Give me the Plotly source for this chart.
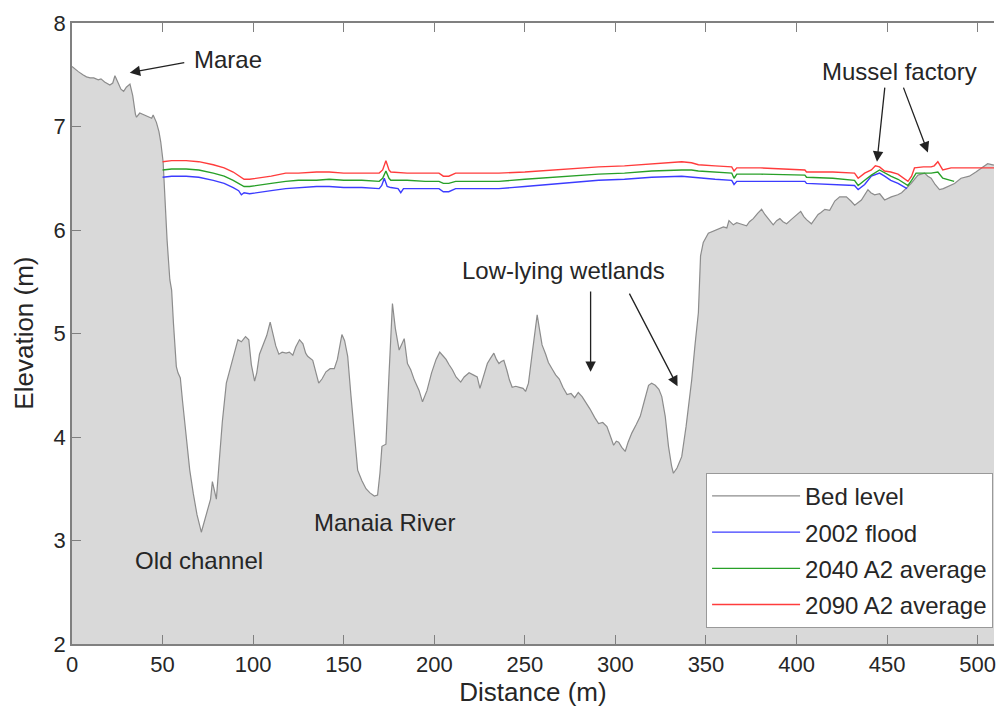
import plotly.graph_objects as go

# ---- data ----
bed_x = [0, 2, 3.5, 6, 8, 10, 12, 14.5, 16, 18, 20.9, 22.5, 23.7, 25.5, 27, 28.5, 30, 32, 33.5, 35, 35.6,
         37.4, 40, 42, 44, 44.8, 46.6, 48, 49, 50.3, 51.2, 52.5, 54, 55, 56, 57.6, 58.5, 59.8, 61, 63, 65,
         67, 69, 71.4, 73, 75, 76.5, 77.5, 78.5, 79.7, 81, 83, 85.2, 87, 89, 91.6, 93.5, 95.8, 97.6, 99,
         100.8, 102, 103.5, 105.4, 107.5, 109.4, 111, 112.5, 114.2, 116, 118.2, 120, 121.9, 123.5, 125.6,
         127.5, 129, 130.1, 132.9, 134.5, 136.2, 138, 140.2, 142.5, 144.8, 146.5, 149, 150.5, 152.2, 154,
         156, 157.7, 160, 162.3, 164.5, 166.9, 168.7, 170, 171.1, 173.3, 175, 176.9, 178.5, 180.6, 183.4,
         185.2, 187, 189, 191.6, 193.5, 196, 198.5, 201, 203, 205, 206.5, 208.1, 210, 212, 214.6, 216.5,
         219.2, 221.5, 223.7, 225.2, 227, 229.3, 231, 232.9, 234.3, 235.7, 237, 238.4, 240, 241.5, 243,
         245, 247, 249, 250.4, 252, 254, 256.8, 258, 259.5, 261.5, 263, 265, 267, 269, 271, 273.3, 275.5,
         277.5, 279.5, 281.6, 284, 286, 288.5, 290.7, 293, 295.3, 297, 299, 300.5, 301.8, 303.5, 305.4,
         307, 309.1, 311.5, 313.7, 316, 318.3, 320, 322, 324, 325.6, 327.5, 329.3, 331, 332, 334, 336.6,
         339, 342.1, 344, 345.8, 347, 348.5, 351.3, 355, 359.6, 361.5, 362.7, 365.1, 367, 368.8, 372.4,
         374, 376.1, 378.5, 380.7, 382.5, 384.4, 387.1, 389, 390.8, 392.5, 394.5, 397, 399, 402.3, 404,
         405.5, 408.2, 410, 411.9, 413.5, 415.6, 418.3, 421.1, 423.8, 427.5, 430, 432.1, 435.8, 439.4,
         441, 443.1, 445.9, 448.6, 452.3, 455.9, 458, 460.5, 463.3, 467, 470.7, 472.5, 474.3, 476.5,
         478.9, 481, 483.5, 487.2, 490.8, 495.4, 499, 502, 505.5, 508.3, 510]
bed_y = [7.58, 7.55, 7.53, 7.50, 7.48, 7.47, 7.47, 7.45, 7.46, 7.43, 7.40, 7.42, 7.49, 7.42, 7.36, 7.34,
         7.38, 7.41, 7.30, 7.12, 7.09, 7.13, 7.11, 7.10, 7.08, 7.11, 7.04, 6.95, 6.85, 6.66, 6.30, 5.90,
         5.52, 5.42, 5.10, 4.68, 4.62, 4.57, 4.35, 3.98, 3.68, 3.45, 3.25, 3.08, 3.18, 3.29, 3.40, 3.57,
         3.50, 3.40, 3.70, 4.15, 4.52, 4.64, 4.78, 4.94, 4.92, 4.97, 4.94, 4.70, 4.54, 4.62, 4.80, 4.89,
         4.98, 5.11, 5.00, 4.88, 4.80, 4.82, 4.81, 4.82, 4.79, 4.87, 4.94, 4.90, 4.81, 4.78, 4.74, 4.62,
         4.52, 4.56, 4.63, 4.66, 4.66, 4.75, 4.99, 4.93, 4.78, 4.40, 3.98, 3.68, 3.58, 3.50, 3.46, 3.43,
         3.44, 3.65, 3.91, 3.93, 4.60, 5.29, 5.05, 4.84, 4.95, 4.71, 4.65, 4.55, 4.45, 4.34, 4.45, 4.62,
         4.75, 4.82, 4.78, 4.75, 4.70, 4.65, 4.58, 4.53, 4.58, 4.62, 4.60, 4.58, 4.47, 4.57, 4.71, 4.76,
         4.81, 4.75, 4.71, 4.73, 4.74, 4.65, 4.55, 4.48, 4.49, 4.48, 4.47, 4.44, 4.52, 4.80, 5.18, 5.05,
         4.89, 4.80, 4.72, 4.66, 4.60, 4.56, 4.48, 4.41, 4.42, 4.38, 4.43, 4.39, 4.33, 4.27, 4.19, 4.13,
         4.14, 4.10, 4.02, 3.92, 3.96, 3.95, 3.90, 3.86, 3.95, 4.04, 4.12, 4.20, 4.35, 4.50, 4.52, 4.50,
         4.46, 4.39, 4.20, 3.91, 3.72, 3.65, 3.70, 3.81, 4.10, 4.55, 4.90, 5.20, 5.75, 5.88, 5.97, 6.00,
         6.03, 6.02, 6.09, 6.05, 6.07, 6.06, 6.04, 6.08, 6.11, 6.16, 6.20, 6.15, 6.11, 6.05, 6.09, 6.11,
         6.08, 6.06, 6.10, 6.13, 6.18, 6.13, 6.10, 6.06, 6.10, 6.15, 6.17, 6.20, 6.19, 6.28, 6.32, 6.32,
         6.28, 6.24, 6.29, 6.39, 6.36, 6.34, 6.35, 6.29, 6.32, 6.34, 6.36, 6.40, 6.45, 6.53, 6.55, 6.52,
         6.50, 6.44, 6.39, 6.40, 6.42, 6.45, 6.50, 6.52, 6.56, 6.60, 6.64, 6.63, 6.62]

red_x = [50, 55, 63, 70, 78, 84, 89, 93, 95, 98, 103, 110, 118, 125, 135, 142, 150, 160, 169.6, 171.5,
         173.3, 175, 176, 185, 195, 202.6, 205, 208, 211.8, 220, 235.7, 250, 265, 280, 290.7, 305, 320,
         336.6, 342, 345.8, 355, 364.2, 365.5, 367, 380, 395, 404.6, 405.5, 420, 432, 434, 437.6, 441.3,
         443.5, 445.8, 448.6, 452, 456, 459, 461.5, 463.5, 465.1, 470, 474.3, 476, 478, 480.7, 485.3,
         495, 509]
red_y = [6.66, 6.67, 6.67, 6.66, 6.63, 6.60, 6.56, 6.51, 6.49, 6.49, 6.50, 6.52, 6.55, 6.55, 6.56, 6.56,
         6.55, 6.55, 6.55, 6.58, 6.67, 6.58, 6.56, 6.55, 6.55, 6.55, 6.52, 6.52, 6.55, 6.55, 6.55, 6.56,
         6.58, 6.60, 6.61, 6.62, 6.64, 6.66, 6.65, 6.63, 6.62, 6.61, 6.57, 6.60, 6.60, 6.59, 6.58, 6.56,
         6.56, 6.55, 6.50, 6.55, 6.58, 6.62, 6.61, 6.57, 6.56, 6.54, 6.50, 6.47, 6.52, 6.60, 6.61, 6.61,
         6.62, 6.66, 6.58, 6.60, 6.60, 6.60]

green_x = [50, 55, 63, 70, 78, 84, 89, 93, 95, 98, 103, 110, 118, 125, 135, 142, 150, 160, 169.6, 171.5,
           173.3, 175, 176, 185, 195, 202.6, 205, 208, 211.8, 220, 235.7, 250, 265, 280, 290.7, 305, 320,
           336.6, 342, 345.8, 355, 364.2, 365.5, 367, 380, 395, 404.6, 405.5, 420, 432, 434, 437.6, 441.3,
           445.8, 448.6, 452, 456, 459, 461.5, 463.5, 466, 470, 474.3, 478, 480.7, 485, 487]
green_y = [6.58, 6.59, 6.59, 6.58, 6.55, 6.52, 6.48, 6.44, 6.42, 6.42, 6.43, 6.45, 6.47, 6.48, 6.48,
           6.49, 6.48, 6.48, 6.47, 6.50, 6.57, 6.50, 6.48, 6.48, 6.47, 6.47, 6.45, 6.45, 6.47, 6.47, 6.47,
           6.49, 6.51, 6.53, 6.54, 6.55, 6.57, 6.58, 6.58, 6.57, 6.56, 6.55, 6.50, 6.54, 6.54, 6.53, 6.53,
           6.51, 6.50, 6.48, 6.43, 6.48, 6.53, 6.58, 6.55, 6.52, 6.49, 6.46, 6.43, 6.48, 6.55, 6.55, 6.55,
           6.56, 6.50, 6.48, 6.47]

blue_x = [50, 55, 63, 70, 78, 84, 89, 92, 93.5, 95, 98, 103, 110, 118, 125, 135, 142, 150, 160, 169.6,
          171, 172.4, 174, 176, 180, 181.5, 183, 195, 202.6, 205, 208, 211.8, 220, 235.7, 250, 265, 280,
          290.7, 305, 320, 336.6, 342, 345.8, 355, 364.2, 365.5, 367, 380, 395, 404.6, 405.5, 420, 432,
          434, 437.6, 441.3, 445.8, 448.6, 452, 456, 461]
blue_y = [6.51, 6.52, 6.52, 6.51, 6.48, 6.45, 6.41, 6.38, 6.34, 6.36, 6.35, 6.36, 6.38, 6.40, 6.41, 6.42,
          6.42, 6.41, 6.41, 6.40, 6.43, 6.50, 6.42, 6.41, 6.40, 6.36, 6.40, 6.40, 6.40, 6.37, 6.37, 6.40,
          6.40, 6.40, 6.42, 6.44, 6.46, 6.48, 6.49, 6.51, 6.52, 6.51, 6.50, 6.49, 6.48, 6.44, 6.47, 6.47,
          6.47, 6.47, 6.45, 6.44, 6.43, 6.39, 6.44, 6.52, 6.55, 6.52, 6.48, 6.45, 6.40]

series_names = ["Bed level", "2002 flood", "2040 A2 average", "2090 A2 average"]
x_ticks = [0, 50, 100, 150, 200, 250, 300, 350, 400, 450, 500]
y_ticks = [2, 3, 4, 5, 6, 7, 8]

FONT = "Liberation Sans, Arial, sans-serif"
TXT = "#262626"
AX = "#808080"

fig = go.Figure()
# ground fill (no legend), then the bed outline with legend entry
fig.add_trace(go.Scatter(x=bed_x, y=bed_y, mode="lines", showlegend=False, hoverinfo="skip",
                         line=dict(color="rgba(0,0,0,0)", width=0), fill="tozeroy",
                         fillcolor="#d9d9d9"))
fig.add_trace(go.Scatter(x=bed_x, y=bed_y, name=series_names[0], mode="lines", legendgroup="g0",
                         line=dict(color="#8c8c8c", width=1.2)))
fig.add_trace(go.Scatter(x=blue_x, y=blue_y, name=series_names[1], mode="lines", legendgroup="g1",
                         line=dict(color="rgb(60,60,255)", width=1.4)))
fig.add_trace(go.Scatter(x=green_x, y=green_y, name=series_names[2], mode="lines", legendgroup="g2",
                         line=dict(color="rgb(40,160,40)", width=1.4)))
fig.add_trace(go.Scatter(x=red_x, y=red_y, name=series_names[3], mode="lines", legendgroup="g3",
                         line=dict(color="rgb(255,60,60)", width=1.4)))

# text labels
labels = [
    dict(text="Marae", x=66.1, y=7.65, xanchor="left"),
    dict(text="Mussel factory", x=457, y=7.53, xanchor="center"),
    dict(text="Low-lying wetlands", x=271.5, y=5.61, xanchor="center"),
    dict(text="Old channel", x=70, y=2.81, xanchor="center"),
    dict(text="Manaia River", x=172.4, y=3.17, xanchor="center"),
]
for lb in labels:
    fig.add_annotation(text=lb["text"], x=lb["x"], y=lb["y"], xref="x", yref="y",
                       xanchor=lb["xanchor"], yanchor="middle", showarrow=False,
                       font=dict(family=FONT, size=24, color=TXT))

# arrows (tail -> tip)
arrows = [
    ((62.8, 7.62), (31.9, 7.52)),
    ((286.3, 5.42), (286.3, 4.63)),
    ((307.3, 5.40), (334.3, 4.49)),
    ((448.8, 7.39), (444.4, 6.66)),
    ((458.7, 7.39), (472.5, 6.75)),
]
for (tx, ty), (hx, hy) in arrows:
    fig.add_annotation(x=hx, y=hy, ax=tx, ay=ty, xref="x", yref="y", axref="x", ayref="y",
                       text="", showarrow=True, arrowhead=2, arrowsize=1.6, arrowwidth=1.3,
                       arrowcolor="#222222", standoff=0, startstandoff=0)

# y-axis title placed as rotated text left of the tick labels
fig.add_annotation(text="Elevation (m)", xref="paper", yref="paper", x=-0.053, y=0.5,
                   xanchor="center", yanchor="middle", textangle=-90, showarrow=False,
                   font=dict(family=FONT, size=26, color=TXT))

fig.update_layout(
    width=996, height=711,
    margin=dict(l=72, r=0, t=23, b=67),
    paper_bgcolor="white", plot_bgcolor="white",
    font=dict(family=FONT, size=22, color=TXT),
    showlegend=True,
    legend=dict(x=0.999, y=0.026, xanchor="right", yanchor="bottom",
                bgcolor="white", bordercolor="#999999", borderwidth=1, itemwidth=88,
                entrywidth=208, entrywidthmode="pixels",
                font=dict(family=FONT, size=24, color=TXT), tracegroupgap=2),
    xaxis=dict(range=[0, 509], tickvals=x_ticks, ticks="inside", ticklen=9, tickcolor=AX,
               showline=True, linecolor=AX, linewidth=1.5, mirror="ticks", showgrid=False,
               zeroline=False, tickfont=dict(size=22, color=TXT), ticklabeloverflow="allow",
               title=dict(text="Distance (m)", font=dict(size=26, color=TXT), standoff=4)),
    yaxis=dict(range=[2, 8], tickvals=y_ticks, ticks="inside", ticklen=9, tickcolor=AX,
               showline=True, linecolor=AX, linewidth=1.5, mirror=False, showgrid=False,
               zeroline=False, tickfont=dict(size=22, color=TXT)),
)

fig.write_html("out.html")
